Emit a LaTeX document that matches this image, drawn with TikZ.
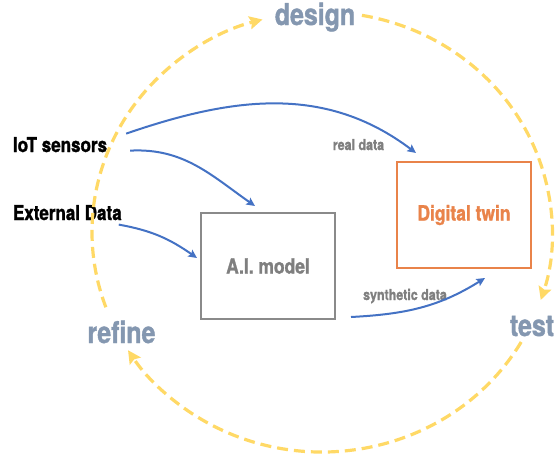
\documentclass[tikz,border=0pt]{standalone}
\usepackage{fontspec}
\newfontfamily\cond{TeX Gyre Heros}[FakeStretch=0.83,FakeBold=1.3]
\usetikzlibrary{arrows.meta,calc}
\definecolor{cyclecol}{HTML}{FFD966}
\definecolor{stagecol}{HTML}{8497B0}
\definecolor{flowcol}{HTML}{4472C4}
\definecolor{twincol}{HTML}{E9834A}
\definecolor{modelcol}{HTML}{7F7F7F}
\definecolor{boxgray}{HTML}{8A8A8A}
\tikzset{
  lbl/.style={inner sep=0pt, outer sep=0pt},
  stage/.style={lbl, text=stagecol, font=\cond\bfseries\fontsize{30}{33}\selectfont},
  source/.style={lbl, text=black, font=\cond\bfseries\fontsize{20.5}{23}\selectfont},
  small/.style={lbl, text=modelcol, font=\cond\bfseries\fontsize{15}{17}\selectfont},
  boxnode/.style={draw, line width=2pt, minimum width=134pt, minimum height=106pt, inner sep=0pt, font=\cond\bfseries\fontsize{21}{24}\selectfont},
  cyc/.style={draw=cyclecol, line width=3.2pt, dash pattern=on 11pt off 6pt, -{Stealth[length=13pt,width=13pt,inset=2pt,fill=cyclecol]}},
  flow/.style={draw=flowcol, line width=2pt, -{Stealth[length=8.5pt,width=8pt,inset=1.5pt]}},
}
\begin{document}
\begin{tikzpicture}[x=1pt,y=1pt]
\useasboundingbox (0,0) rectangle (556,-459);
\coordinate (c) at (322,-232);
% stage labels
\node[stage, anchor=base] (design) at (315,-25) {design};
\node[stage, anchor=base] (test) at (532,-336) {test};
\node[stage, anchor=base] (refine) at (121.5,-343) {refine};
% sources
\node[source, anchor=base west] (iot) at (13,-152) {IoT sensors};
\node[source, anchor=base west] (ext) at (13,-220) {External Data};
% boxes
\node[boxnode, draw=twincol, text=twincol] (dt) at (464,-215) {Digital twin};
\node[boxnode, draw=boxgray, text=modelcol] (ai) at (268,-266) {A.I. model};
% small labels
\node[small, anchor=base] (real) at (358.5,-150) {real data};
\node[small, anchor=base] (synth) at (405,-300) {synthetic data};
% cycle arcs
\draw[cyc] ($(c)+(200:230 and 220)$) arc[start angle=200, end angle=105, x radius=230, y radius=220];
\draw[cyc] ($(c)+(80:230 and 220)$) arc[start angle=80, end angle=-18, x radius=230, y radius=220];
\draw[cyc] ($(c)+(-30:230 and 220)$) arc[start angle=-30, end angle=-147.5, x radius=230, y radius=220];
% data flows
\draw[flow] ([shift={(19,11)}]iot.east) to[out=19,in=143] ([shift={(20,8)}]dt.north west);
\draw[flow] ([shift={(23,-6)}]iot.east) to[out=3,in=145] ([shift={(55,6)}]ai.north west);
\draw[flow] ([shift={(-3,-12)}]ext.east) to[out=-10,in=145] ([shift={(-3,8)}]ai.west);
\draw[flow] ([shift={(15,3)}]ai.south east) to[out=3,in=-148] ([shift={(-47,-9)}]dt.south east);
\end{tikzpicture}
\end{document}
